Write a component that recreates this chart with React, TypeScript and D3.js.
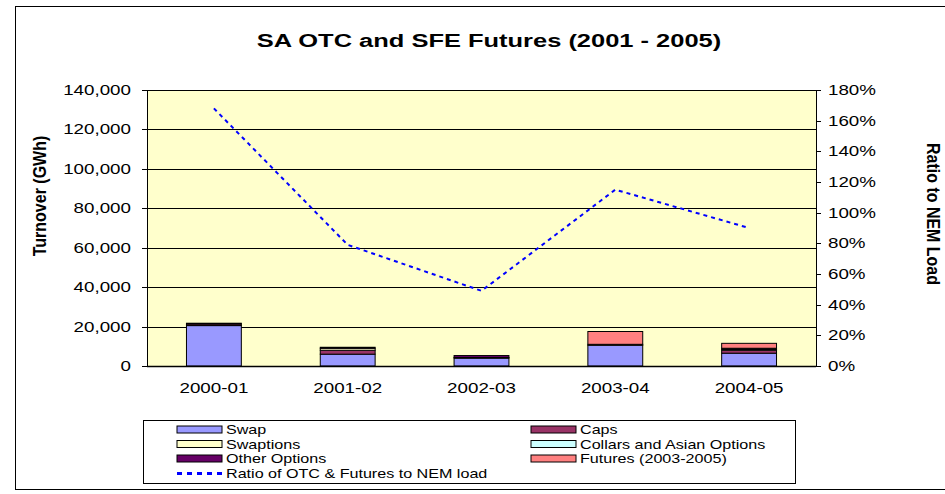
import React from "react"
import * as d3 from "d3"

const years = ["2000-01", "2001-02", "2002-03", "2003-04", "2004-05"]
const swap = [20500, 6000, 4000, 10500, 6500]
const caps = [800, 2000, 300, 0, 1500]
const swaptions = [0, 1000, 0, 500, 500]
const collars = [0, 0, 0, 0, 0]
const otherOptions = [400, 500, 1000, 0, 500]
const futures = [0, 0, 0, 6500, 2500]
const ratio = [1.68, 0.79, 0.49, 1.15, 0.9]

const leftTicks = [0, 20000, 40000, 60000, 80000, 100000, 120000, 140000]
const rightTicks = [0, 0.2, 0.4, 0.6, 0.8, 1.0, 1.2, 1.4, 1.6, 1.8]

const series = [
    {name: "Swap", values: swap, color: "#9999FF"},
    {name: "Caps", values: caps, color: "#993366"},
    {name: "Swaptions", values: swaptions, color: "#FFFFCC"},
    {name: "Collars and Asian Options", values: collars, color: "#CCFFFF"},
    {name: "Other Options", values: otherOptions, color: "#660066"},
    {name: "Futures (2003-2005)", values: futures, color: "#FF8080"},
]

const W = 945
const H = 494
const margin = {left: 147, right: 816, top: 90, bottom: 366}
const font = "Arial, 'Liberation Sans', sans-serif"
const SX = 1.34 // the source picture is stretched sideways

// text stretched horizontally around its anchor point
const T = ({x, y, sx = SX, rot = 0, anchor = "start", size = 14, bold = false, children}: any) => (
    <text transform={`translate(${x},${y}) scale(${sx},1) rotate(${rot})`} textAnchor={anchor} fontSize={size}
          fontWeight={bold ? "bold" : "normal"}>{children}</text>
)

const App = () => {
    const x = d3.scaleBand().domain(years).range([margin.left, margin.right]).paddingInner(0.59).paddingOuter(0.295)
    const yL = d3.scaleLinear().domain([0, 140000]).range([margin.bottom, margin.top])
    const yR = d3.scaleLinear().domain([0, 1.8]).range([margin.bottom, margin.top])
    const fmt = d3.format(",")

    const table = years.map((y, i) => {
        const row: any = {year: y}
        series.forEach(s => { row[s.name] = s.values[i] })
        return row
    })
    const stacked = d3.stack().keys(series.map(s => s.name))(table)

    const line = d3.line<number>()
        .x((_, i) => (x(years[i]) as number) + x.bandwidth() / 2)
        .y(d => yR(d))

    // legend layout: two columns
    const legendRows = [
        [series[0], series[1]],
        [series[2], series[3]],
        [series[4], series[5]],
    ]

    return (
        <svg width={W} height={H} style={{position: "absolute", left: 0, top: 0}} fontFamily={font}>
            <rect x={0} y={0} width={W} height={H} fill="white"/>
            <rect x={15.5} y={6.5} width={940} height={483} fill="white" stroke="#000" strokeWidth={1}/>
            <T x={489} y={47} anchor="middle" size={19} bold>SA OTC and SFE Futures (2001 - 2005)</T>

            <rect x={margin.left} y={margin.top} width={margin.right - margin.left} height={margin.bottom - margin.top} fill="#FFFFCC"/>
            {leftTicks.map(t => (
                <g key={t}>
                    <line x1={margin.left} x2={margin.right} y1={Math.round(yL(t)) + 0.5} y2={Math.round(yL(t)) + 0.5} stroke="#000" strokeWidth={1}/>
                    <line x1={margin.left - 5} x2={margin.left} y1={Math.round(yL(t)) + 0.5} y2={Math.round(yL(t)) + 0.5} stroke="#000"/>
                    <T x={131} y={yL(t) + 5} anchor="end">{fmt(t)}</T>
                </g>
            ))}
            {rightTicks.map(t => (
                <g key={t}>
                    <line x1={margin.right} x2={margin.right + 5} y1={Math.round(yR(t)) + 0.5} y2={Math.round(yR(t)) + 0.5} stroke="#000"/>
                    <T x={828} y={yR(t) + 5}>{Math.round(t * 100)}%</T>
                </g>
            ))}
            <line x1={margin.left + 0.5} x2={margin.left + 0.5} y1={margin.top} y2={margin.bottom} stroke="#000"/>
            <line x1={margin.right + 0.5} x2={margin.right + 0.5} y1={margin.top} y2={margin.bottom} stroke="#000"/>

            {stacked.map((layer, li) => (
                <g key={layer.key}>
                    {layer.map((d, i) => (d[1] - d[0] > 0) ? (
                        <rect key={i}
                              x={x(years[i])}
                              y={yL(d[1])}
                              width={x.bandwidth()}
                              height={yL(d[0]) - yL(d[1])}
                              fill={series[li].color}
                              stroke="#000" strokeWidth={1}/>
                    ) : null)}
                </g>
            ))}
            <line x1={margin.left} x2={margin.right} y1={margin.bottom + 0.5} y2={margin.bottom + 0.5} stroke="#000" strokeWidth={1.5}/>

            <path d={line(ratio) as string} fill="none" stroke="#0000FF" strokeWidth={2} strokeDasharray="4,4"/>

            {years.map(y => (
                <T key={y} x={(x(y) as number) + x.bandwidth() / 2} y={393} anchor="middle">{y}</T>
            ))}

            <T x={46} y={196} rot={-90} anchor="middle" size={16} sx={1.15} bold>Turnover (GWh)</T>
            <T x={927} y={214} rot={90} anchor="middle" size={16} sx={1.1} bold>Ratio to NEM Load</T>

            <rect x={143.5} y={420.5} width={652} height={63} fill="white" stroke="#000" strokeWidth={1}/>
            {legendRows.map((row, ri) => row.map((s, ci) => {
                const sx = ci === 0 ? 177 : 531
                const sy = 426 + ri * 14.5
                return (
                    <g key={s.name}>
                        <rect x={sx} y={sy} width={45} height={7} fill={s.color} stroke="#000" strokeWidth={1}/>
                        <T x={sx + 49} y={sy + 8} size={12.5} sx={1.29}>{s.name}</T>
                    </g>
                )
            }))}
            <line x1={177} x2={222} y1={473.5} y2={473.5} stroke="#0000FF" strokeWidth={3} strokeDasharray="5,5"/>
            <T x={226} y={478} size={12.5} sx={1.29}>Ratio of OTC &amp; Futures to NEM load</T>
        </svg>
    )
}

export default App
